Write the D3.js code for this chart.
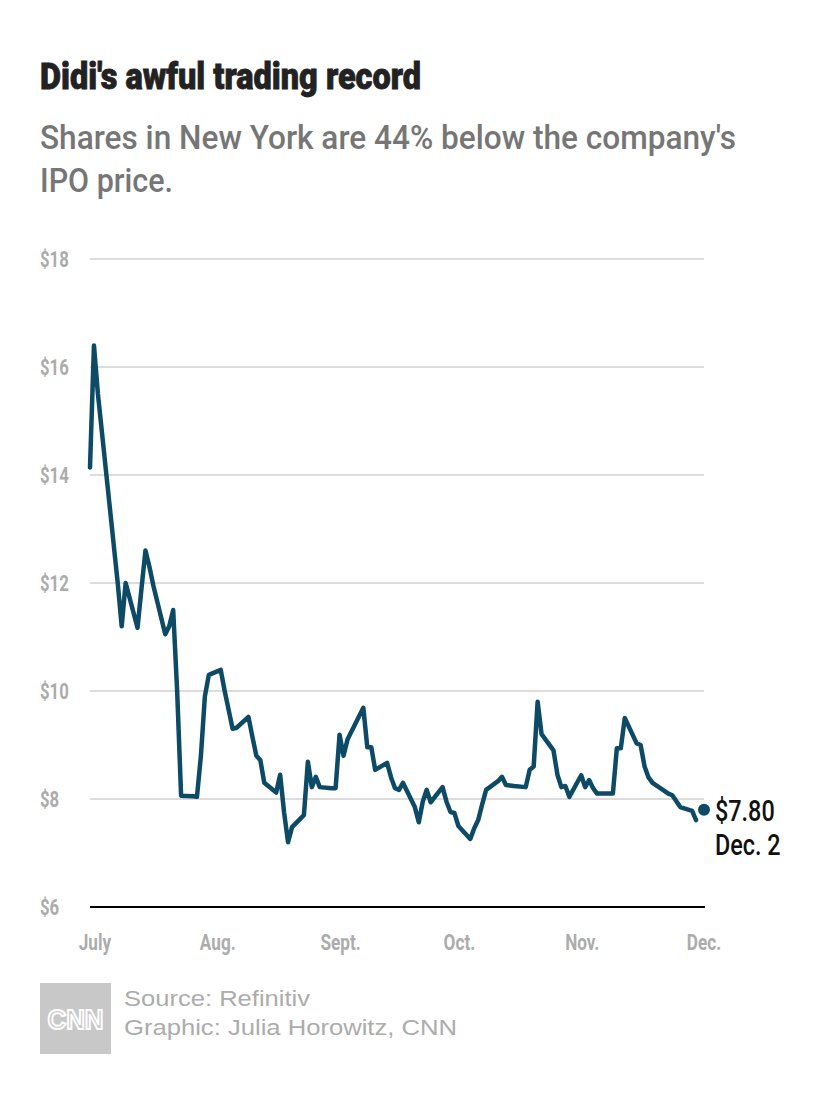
<!DOCTYPE html>
<html>
<head>
<meta charset="utf-8">
<script src="https://cdn.jsdelivr.net/npm/d3@7"></script>
<style>
  html, body { margin: 0; padding: 0; background: #fff; }
  svg { display: block; }
</style>
</head>
<body>
<svg id="chart" width="830" height="1106"></svg>
<script>
// ---- Data ----
const dates = [
  "2021-06-30","2021-07-01","2021-07-02","2021-07-06","2021-07-07","2021-07-08","2021-07-09",
  "2021-07-12","2021-07-13","2021-07-14","2021-07-15","2021-07-16",
  "2021-07-19","2021-07-20","2021-07-21","2021-07-22","2021-07-23",
  "2021-07-26","2021-07-27","2021-07-28","2021-07-29","2021-07-30",
  "2021-08-02","2021-08-03","2021-08-04","2021-08-05","2021-08-06",
  "2021-08-09","2021-08-10","2021-08-11","2021-08-12","2021-08-13",
  "2021-08-16","2021-08-17","2021-08-18","2021-08-19","2021-08-20",
  "2021-08-23","2021-08-24","2021-08-25","2021-08-26","2021-08-27",
  "2021-08-30","2021-08-31","2021-09-01","2021-09-02","2021-09-03",
  "2021-09-07","2021-09-08","2021-09-09","2021-09-10",
  "2021-09-13","2021-09-14","2021-09-15","2021-09-16","2021-09-17",
  "2021-09-20","2021-09-21","2021-09-22","2021-09-23","2021-09-24",
  "2021-09-27","2021-09-28","2021-09-29","2021-09-30","2021-10-01",
  "2021-10-04","2021-10-05","2021-10-06","2021-10-07","2021-10-08",
  "2021-10-11","2021-10-12","2021-10-13","2021-10-14","2021-10-15",
  "2021-10-18","2021-10-19","2021-10-20","2021-10-21","2021-10-22",
  "2021-10-25","2021-10-26","2021-10-27","2021-10-28","2021-10-29",
  "2021-11-01","2021-11-02","2021-11-03","2021-11-04","2021-11-05",
  "2021-11-08","2021-11-09","2021-11-10","2021-11-11","2021-11-12",
  "2021-11-15","2021-11-16","2021-11-17","2021-11-18","2021-11-19",
  "2021-11-22","2021-11-23","2021-11-24","2021-11-26",
  "2021-11-29","2021-11-30"
];
const prices = [
  14.14,16.40,15.50,12.70,12.00,11.20,12.00,
  11.17,11.90,12.60,12.30,11.95,
  11.05,11.20,11.50,10.00,8.06,
  8.05,8.04,8.80,9.90,10.30,
  10.39,10.00,9.65,9.30,9.32,
  9.52,9.15,8.80,8.72,8.30,
  8.12,8.45,7.75,7.20,7.48,
  7.70,8.69,8.22,8.41,8.22,
  8.20,8.20,9.19,8.80,9.10,
  9.69,8.96,8.96,8.54,
  8.67,8.40,8.20,8.17,8.30,
  7.85,7.57,7.95,8.17,7.94,
  8.22,7.95,7.76,7.74,7.50,
  7.26,7.46,7.61,7.90,8.17,
  8.33,8.41,8.26,8.25,8.24,
  8.22,8.54,8.60,9.80,9.20,
  8.90,8.45,8.22,8.24,8.04,
  8.44,8.22,8.35,8.20,8.10,
  8.10,8.10,8.94,8.94,9.50,
  9.03,9.00,8.60,8.40,8.30,
  8.15,8.10,8.07,7.85,
  7.78,7.61
];
const lastDate = "2021-12-02";
const lastPrice = 7.80;
const lastDateLabel = "Dec. 2";

const yTicks = [6, 8, 10, 12, 14, 16, 18];
const xTickDates = ["2021-07-01","2021-08-01","2021-09-01","2021-10-01","2021-11-01","2021-12-01"];
const xTickLabels = ["July","Aug.","Sept.","Oct.","Nov.","Dec."];

const title = "Didi's awful trading record";
const subtitleLines = ["Shares in New York are 44% below the company's", "IPO price."];
const sourceLines = ["Source: Refinitiv", "Graphic: Julia Horowitz, CNN"];

// ---- Drawing ----
const parse = d3.timeParse("%Y-%m-%d");
const data = dates.map((d, i) => ({ date: parse(d), value: prices[i] }));

const svg = d3.select("#chart");
const FONT = "Roboto, 'Liberation Sans', sans-serif";
const LINE = "#0c4a66";
const GRAY = "#acacac";

// squeeze text horizontally, keeping its anchor
function condense(sel, factor) {
  sel.each(function () {
    const w = this.getComputedTextLength();
    d3.select(this)
      .attr("textLength", w * factor)
      .attr("lengthAdjust", "spacingAndGlyphs");
  });
}

const x = d3.scaleTime()
  .domain([parse("2021-06-30"), parse(lastDate)])
  .range([90, 704]);
const y = d3.scaleLinear()
  .domain([6, 18])
  .range([907, 259]);

// Title & subtitle
svg.append("text")
  .attr("x", 40).attr("y", 89)
  .attr("font-family", FONT)
  .attr("font-weight", 900)
  .attr("font-size", 37)
  .attr("fill", "#222")
  .attr("stroke", "#222")
  .attr("stroke-width", 0.8)
  .attr("textLength", 381)
  .attr("lengthAdjust", "spacingAndGlyphs")
  .text(title);

const subWidths = [696, 133];
subtitleLines.forEach((t, i) => {
  svg.append("text")
    .attr("x", 40).attr("y", 149 + i * 43)
    .attr("font-family", FONT)
    .attr("font-weight", 500)
    .attr("font-size", 33)
    .attr("fill", "#767676")
    .attr("textLength", subWidths[i])
    .attr("lengthAdjust", "spacingAndGlyphs")
    .text(t);
});

// Gridlines
svg.append("g")
  .selectAll("line")
  .data(yTicks.filter(v => v > 6))
  .join("line")
  .attr("x1", 90).attr("x2", 704)
  .attr("y1", d => y(d)).attr("y2", d => y(d))
  .attr("stroke", "#dcdcdc")
  .attr("stroke-width", 2);

// Y labels
svg.append("g")
  .selectAll("text")
  .data(yTicks)
  .join("text")
  .attr("x", 40)
  .attr("y", d => y(d) + 8)
  .attr("font-family", FONT)
  .attr("font-weight", 700)
  .attr("font-size", 22)
  .attr("fill", GRAY)
  .text(d => "$" + d)
  .call(condense, 0.76);

// Baseline
svg.append("line")
  .attr("x1", 90).attr("x2", 705)
  .attr("y1", y(6)).attr("y2", y(6))
  .attr("stroke", "#000")
  .attr("stroke-width", 2);

// X labels
svg.append("g")
  .selectAll("text")
  .data(xTickDates)
  .join("text")
  .attr("x", (d, i) => x(parse(d)) + (i === xTickDates.length - 1 ? 4 : 1))
  .attr("y", 950)
  .attr("text-anchor", "middle")
  .attr("font-family", FONT)
  .attr("font-weight", 700)
  .attr("font-size", 22)
  .attr("fill", GRAY)
  .text((d, i) => xTickLabels[i])
  .call(condense, 0.78);

// Line
const line = d3.line()
  .x(d => x(d.date))
  .y(d => y(d.value))
  .curve(d3.curveLinear);

svg.append("path")
  .datum(data)
  .attr("d", line)
  .attr("fill", "none")
  .attr("stroke", LINE)
  .attr("stroke-width", 4.5)
  .attr("stroke-linejoin", "round")
  .attr("stroke-linecap", "round");

// Last point
svg.append("circle")
  .attr("cx", x(parse(lastDate)))
  .attr("cy", y(lastPrice))
  .attr("r", 6)
  .attr("fill", LINE);

const endLabels = svg.append("g");
endLabels.append("text")
  .attr("x", x(parse(lastDate)) + 11)
  .attr("y", y(lastPrice) + 11)
  .text("$" + lastPrice.toFixed(2));
endLabels.append("text")
  .attr("x", x(parse(lastDate)) + 11)
  .attr("y", y(lastPrice) + 45)
  .text(lastDateLabel);
endLabels.selectAll("text")
  .attr("font-family", FONT)
  .attr("font-weight", 500)
  .attr("font-size", 30)
  .attr("fill", "#111")
  .call(condense, 0.78);

// Footer: CNN logo + source
const logo = svg.append("g");
logo.append("rect")
  .attr("x", 40).attr("y", 983)
  .attr("width", 71).attr("height", 71)
  .attr("fill", "#c8c8c8");
logo.append("text")
  .attr("x", 75.5).attr("y", 1029)
  .attr("text-anchor", "middle")
  .attr("font-family", "'Liberation Sans', Arial, sans-serif")
  .attr("font-weight", 700)
  .attr("font-size", 28)
  .attr("fill", "none")
  .attr("stroke", "#fff")
  .attr("stroke-width", 2)
  .attr("textLength", 56)
  .attr("lengthAdjust", "spacingAndGlyphs")
  .text("CNN");

const srcWidths = [186, 333];
sourceLines.forEach((t, i) => {
  svg.append("text")
    .attr("x", 124).attr("y", 1006 + i * 29)
    .attr("font-family", "'Liberation Sans', Arial, sans-serif")
    .attr("font-size", 22)
    .attr("fill", GRAY)
    .attr("textLength", srcWidths[i])
    .attr("lengthAdjust", "spacingAndGlyphs")
    .text(t);
});
</script>
</body>
</html>
